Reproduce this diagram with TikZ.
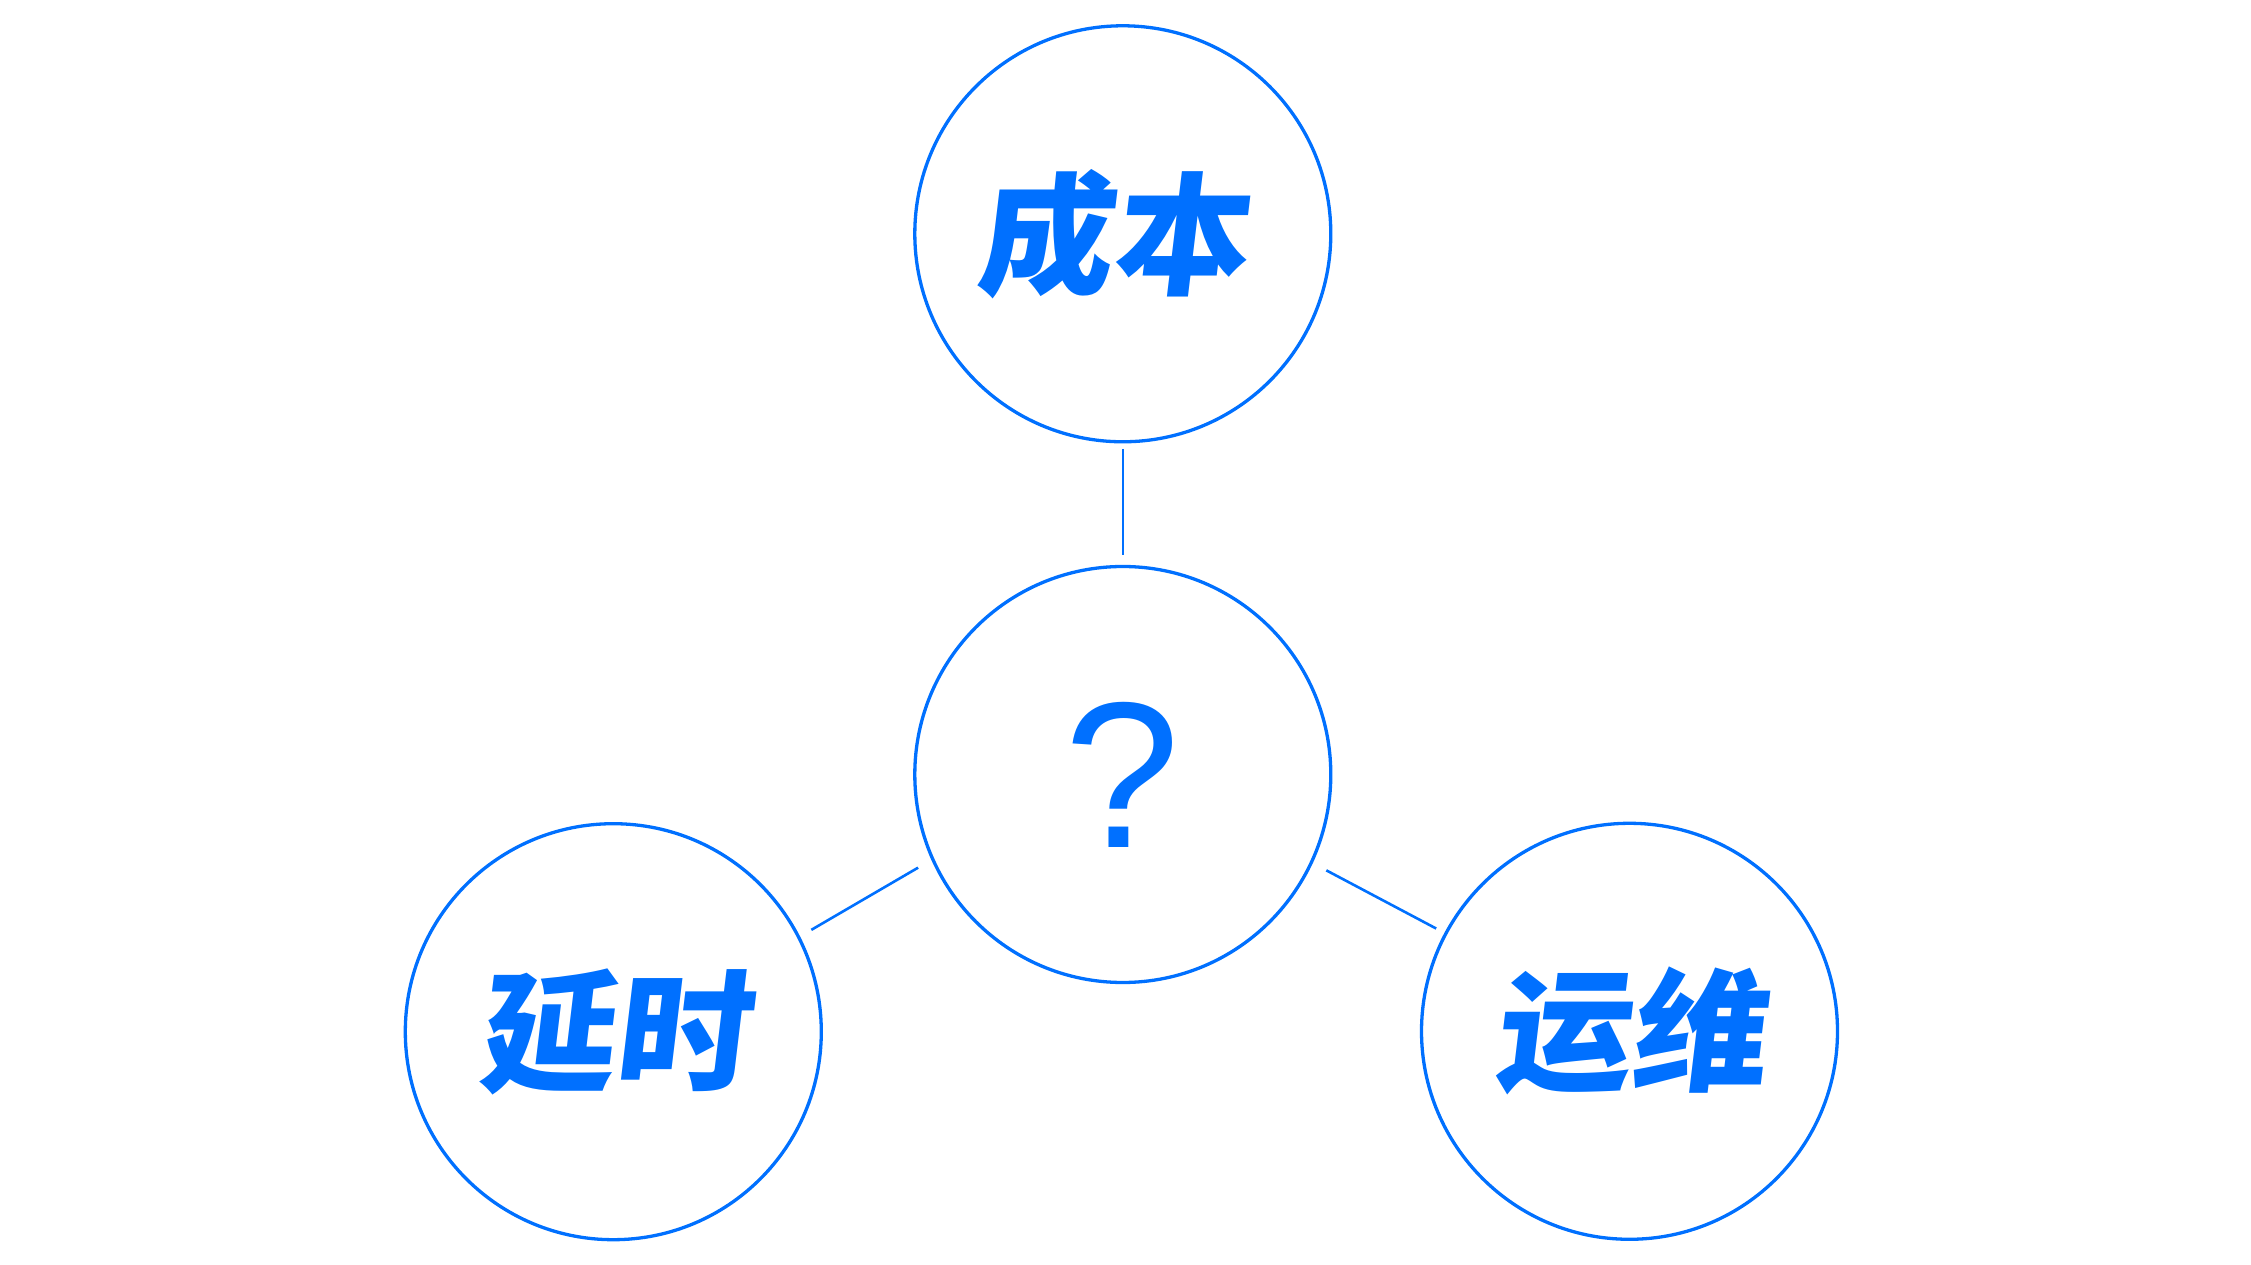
\documentclass[tikz,border=0pt]{standalone}
\usepackage{fontspec}
\newfontfamily\cjkfont[FakeSlant=0.12,FakeStretch=1.03]{Noto Sans CJK SC}
\newfontfamily\qfont{Liberation Sans}
\definecolor{brandblue}{RGB}{0,112,255}
\begin{document}
\begin{tikzpicture}[x=1pt,y=1pt,
  ring/.style={circle,draw=brandblue,line width=3.3pt,minimum size=416pt,inner sep=0pt,outer sep=0pt,text=brandblue},
  cjklabel/.style={font=\cjkfont\bfseries\fontsize{132}{132}\selectfont},
  qlabel/.style={font=\qfont\fontsize{208}{208}\selectfont},
  link/.style={draw=brandblue,line width=2.6pt}]
\useasboundingbox (0,0) rectangle (2251,1264);
\node[ring,cjklabel] (top) at (1122.8,1030.2) {成本\kern22pt};
\node[ring,qlabel] (mid) at (1122.8,489.5) {?};
\node[ring,cjklabel] (left) at (613.3,232.3) {延时};
\node[ring,cjklabel] (right) at (1629.5,232.7) {运维};
\draw[link,shorten <=7pt,shorten >=11.5pt] (top.south) -- (mid.north);
\draw[link,shorten <=17pt,shorten >=14.7pt] (mid.204.6) -- (left.27.6);
\draw[link,shorten <=17pt,shorten >=11pt] (mid.335.5) -- (right.152.1);
\end{tikzpicture}
\end{document}
